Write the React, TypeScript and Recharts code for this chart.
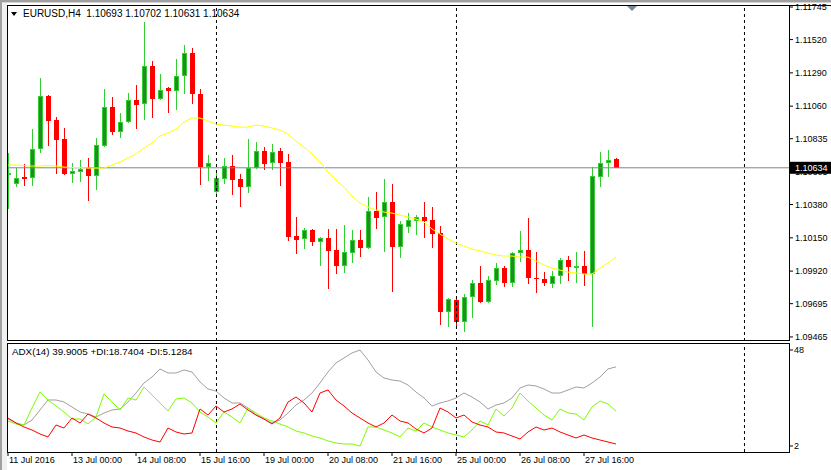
import React from 'react';
import { ComposedChart, Bar, Line, XAxis, YAxis, ReferenceLine, ReferenceDot } from 'recharts';

const FONT = "'Liberation Sans', Arial, sans-serif";
const LIME = '#32CD32';
const DARK = '#228B22';
const BEAR = '#FF0000';

// EURUSD H4 candles, oldest first
const opens = [
  1.10591, 1.10522, 1.10570, 1.10563, 1.10763, 1.11130, 1.10964, 1.10833, 1.10591, 1.10604,
  1.10632, 1.10577, 1.10784, 1.11054, 1.10881, 1.10950, 1.11102, 1.11074, 1.11337, 1.11109,
  1.11185, 1.11164, 1.11268, 1.11427, 1.11143, 1.10639, 1.10466, 1.10556, 1.10646, 1.10556,
  1.10501, 1.10632, 1.10750, 1.10667, 1.10750, 1.10674, 1.10162, 1.10142, 1.10204, 1.10121,
  1.10148, 1.10065, 1.09955, 1.10045, 1.10135, 1.10079, 1.10335, 1.10294, 1.10397, 1.10086,
  1.10224, 1.10266, 1.10294, 1.10273, 1.10183, 1.09637, 1.09720, 1.09568, 1.09741, 1.09837,
  1.09706, 1.09851, 1.09941, 1.09837, 1.10045, 1.10065, 1.09872, 1.09865, 1.09831, 1.09886,
  1.09996, 1.09948, 1.09955, 1.09900, 1.10570, 1.10667, 1.10693,
];
const highs = [
  1.10736, 1.10632, 1.10660, 1.10902, 1.11254, 1.11137, 1.10985, 1.10909, 1.10667, 1.10687,
  1.10701, 1.10839, 1.11178, 1.11123, 1.11012, 1.11150, 1.11206, 1.11641, 1.11371, 1.11282,
  1.11192, 1.11385, 1.11482, 1.11461, 1.11178, 1.10722, 1.10618, 1.10701, 1.10722, 1.10591,
  1.10833, 1.10812, 1.10777, 1.10798, 1.10770, 1.10729, 1.10294, 1.10218, 1.10211, 1.10155,
  1.10211, 1.10211, 1.10238, 1.10204, 1.10204, 1.10432, 1.10466, 1.10556, 1.10522, 1.10266,
  1.10321, 1.10307, 1.10397, 1.10363, 1.10231, 1.09734, 1.09734, 1.09761, 1.09858, 1.09955,
  1.09886, 1.09976, 1.09955, 1.10052, 1.10197, 1.10287, 1.10052, 1.09913, 1.09920, 1.10010,
  1.10024, 1.10052, 1.10059, 1.10639, 1.10743, 1.10756, 1.10702,
];
const lows = [
  1.10349, 1.10501, 1.10508, 1.10508, 1.10736, 1.10784, 1.10591, 1.10584, 1.10528, 1.10535,
  1.10404, 1.10480, 1.10777, 1.10860, 1.10839, 1.10943, 1.10902, 1.10964, 1.10978, 1.11102,
  1.11012, 1.11033, 1.11143, 1.11074, 1.10515, 1.10542, 1.10432, 1.10522, 1.10446, 1.10363,
  1.10459, 1.10625, 1.10618, 1.10618, 1.10508, 1.10128, 1.10038, 1.10072, 1.10093, 1.09955,
  1.09796, 1.09900, 1.09907, 1.09976, 1.10017, 1.10072, 1.10211, 1.10052, 1.09775, 1.10010,
  1.10183, 1.10169, 1.10148, 1.10079, 1.09547, 1.09533, 1.09540, 1.09499, 1.09596, 1.09699,
  1.09699, 1.09824, 1.09810, 1.09810, 1.09983, 1.09831, 1.09768, 1.09817, 1.09803, 1.09831,
  1.09851, 1.09837, 1.09817, 1.09533, 1.10501, 1.10570, 1.10631,
];
const closes = [
  1.10598, 1.10563, 1.10556, 1.10763, 1.11130, 1.10957, 1.10826, 1.10591, 1.10611, 1.10625,
  1.10577, 1.10791, 1.11054, 1.10881, 1.10950, 1.11102, 1.11067, 1.11337, 1.11109, 1.11171,
  1.11164, 1.11268, 1.11427, 1.11143, 1.10639, 1.10667, 1.10563, 1.10646, 1.10549, 1.10501,
  1.10632, 1.10750, 1.10660, 1.10743, 1.10667, 1.10155, 1.10135, 1.10204, 1.10121, 1.10148,
  1.10059, 1.09955, 1.10052, 1.10135, 1.10079, 1.10335, 1.10287, 1.10397, 1.10086, 1.10245,
  1.10273, 1.10294, 1.10266, 1.10176, 1.09637, 1.09727, 1.09568, 1.09741, 1.09837, 1.09706,
  1.09858, 1.09941, 1.09837, 1.10045, 1.10065, 1.09872, 1.09865, 1.09837, 1.09886, 1.09996,
  1.09948, 1.09955, 1.09900, 1.10577, 1.10667, 1.10687, 1.10634,
];
// moving average (yellow)
const ma = [
  1.10653, 1.10653, 1.10649, 1.10646, 1.10646, 1.10649, 1.10646, 1.10639, 1.10636, 1.10636,
  1.10632, 1.10632, 1.10632, 1.10653, 1.10674, 1.10701, 1.10729, 1.10770, 1.10805, 1.10853,
  1.10874, 1.10902, 1.10950, 1.10978, 1.10978, 1.10957, 1.10936, 1.10929, 1.10922, 1.10915,
  1.10915, 1.10929, 1.10922, 1.10909, 1.10895, 1.10867, 1.10819, 1.10777, 1.10729, 1.10674,
  1.10604, 1.10549, 1.10501, 1.10439, 1.10390, 1.10363, 1.10342, 1.10328, 1.10321, 1.10307,
  1.10294, 1.10280, 1.10259, 1.10211, 1.10176, 1.10142, 1.10114, 1.10093, 1.10072, 1.10059,
  1.10045, 1.10031, 1.10024, 1.10024, 1.10017, 1.10017, 1.09990, 1.09962, 1.09941, 1.09927,
  1.09913, 1.09907, 1.09900, 1.09900, 1.09941, 1.09976, 1.10017,
];
// ADX(14)
const adx = [
  14.93, 13.02, 12.06, 14.46, 19.25, 24.04, 24.04, 23.08, 20.69, 18.29,
  17.33, 15.89, 17.81, 19.25, 19.73, 23.08, 27.39, 32.19, 35.06, 38.90,
  36.98, 36.98, 38.42, 37.46, 32.67, 29.31, 28.35, 25.00, 22.60, 22.60,
  20.21, 16.85, 14.93, 13.02, 14.46, 17.81, 21.64, 24.04, 27.39, 32.19,
  37.46, 41.77, 44.17, 46.56, 48.00, 43.21, 37.46, 34.58, 33.62, 33.14,
  31.23, 27.87, 25.00, 21.16, 22.60, 23.56, 25.00, 27.39, 25.48, 23.08,
  19.73, 21.64, 22.60, 25.00, 29.79, 31.23, 30.75, 29.31, 27.39, 27.39,
  28.83, 30.27, 29.79, 32.19, 35.06, 38.90, 39.90,
];
const plusDI = [
  13.98, 12.54, 12.06, 20.21, 27.87, 24.04, 21.16, 18.29, 14.93, 14.93,
  12.54, 15.89, 26.92, 23.08, 19.25, 25.00, 24.04, 30.27, 26.44, 22.60,
  18.77, 24.52, 25.00, 22.60, 18.29, 15.89, 13.02, 18.29, 15.89, 13.02,
  20.21, 17.81, 15.41, 13.98, 12.54, 11.10, 9.18, 8.23, 6.79, 5.83,
  4.39, 3.43, 2.95, 2.95, 1.99, 11.10, 11.10, 9.66, 8.23, 6.31,
  10.62, 9.18, 13.02, 11.10, 9.66, 8.23, 7.27, 6.31, 9.66, 13.98,
  12.06, 19.73, 16.37, 20.21, 27.39, 23.56, 20.21, 16.85, 14.46, 19.73,
  17.81, 17.33, 14.46, 20.69, 23.56, 22.12, 18.74,
];
const minusDI = [
  15.41, 13.02, 11.10, 9.66, 7.75, 6.31, 12.06, 10.62, 15.41, 13.02,
  17.33, 15.41, 13.02, 11.10, 10.62, 9.18, 8.23, 6.31, 4.87, 3.91,
  10.62, 8.71, 7.75, 8.23, 19.73, 16.85, 21.16, 18.29, 19.73, 22.12,
  19.25, 16.85, 14.93, 12.54, 15.41, 23.08, 25.48, 22.60, 18.29, 27.39,
  28.83, 24.04, 21.16, 17.81, 15.41, 13.02, 11.10, 13.02, 16.85, 13.98,
  13.02, 10.14, 8.23, 10.62, 20.21, 18.29, 15.41, 16.85, 13.50, 12.06,
  11.10, 8.71, 8.23, 6.79, 5.35, 8.71, 11.10, 9.66, 10.62, 8.71,
  7.27, 5.83, 7.27, 5.83, 4.87, 3.91, 2.95,
];

const priceTicks = [1.11745, 1.1152, 1.1129, 1.1106, 1.10835, 1.10605, 1.1038, 1.1015, 1.0992, 1.09695, 1.09465];
const lastPrice = 1.10634;
const adxTicks = [48, 2];
const timeTicks = [0, 8, 16, 24, 32, 40, 48, 56, 64, 72];
const timeLabels = [
  '11 Jul 2016', '13 Jul 00:00', '14 Jul 08:00', '15 Jul 16:00', '19 Jul 00:00',
  '20 Jul 08:00', '21 Jul 16:00', '25 Jul 00:00', '26 Jul 08:00', '27 Jul 16:00',
];
const separators = [26.06, 56.06, 92.06];

const candles = opens.map((open, i) => ({
  i,
  open,
  high: highs[i],
  low: lows[i],
  close: closes[i],
  range: [lows[i], highs[i]],
  ma: ma[i],
}));
const adxRows = adx.map((v, i) => ({ i, adx: v, plus: plusDI[i], minus: minusDI[i] }));

function Candle(props: any) {
  const { x, y, width, height, payload } = props;
  if (!payload || x == null || y == null) return null;
  const top0 = Math.min(y, y + height);
  const h = Math.abs(height);
  const { open, close, high, low } = payload;
  const span = high - low || 1e-9;
  const toY = (v: number) => top0 + ((high - v) / span) * h;
  const cx = Math.round(x + width / 2) + 0.5;
  const bTop = Math.round(toY(Math.max(open, close)));
  const bBot = Math.round(toY(Math.min(open, close)));
  const wTop = Math.round(top0);
  const wBot = Math.round(top0 + h);
  if (close >= open) {
    const bh = bBot - bTop;
    return (
      <g>
        <line x1={cx} x2={cx} y1={wTop} y2={wBot} stroke={LIME} />
        {bh >= 3 ? (
          <rect x={cx - 2} y={bTop + 0.5} width={4} height={bh - 1} fill={DARK} stroke={LIME} />
        ) : (
          <rect x={cx - 2.5} y={bTop} width={5} height={Math.max(bh, 2)} fill={LIME} />
        )}
      </g>
    );
  }
  return (
    <g>
      <line x1={cx} x2={cx} y1={wTop} y2={wBot} stroke={BEAR} />
      <rect x={cx - 2.5} y={bTop} width={5} height={Math.max(bBot - bTop, 1)} fill={BEAR} />
    </g>
  );
}

const PriceTick = (props: any) => {
  const { x, y, payload } = props;
  const v = payload.value;
  if (v === lastPrice) {
    return (
      <g>
        <rect x={x - 5} y={y - 6} width={41} height={12} fill="#000" />
        <text x={x} y={y} dy="0.36em" fill="#fff" fontSize={9} fontFamily={FONT}>{v.toFixed(5)}</text>
      </g>
    );
  }
  return (
    <text x={x} y={y} dy="0.36em" fill="#000" fontSize={9} fontFamily={FONT}>{v.toFixed(5)}</text>
  );
};

const AdxTick = (props: any) => {
  const { x, y, payload } = props;
  return (
    <text x={x - 1} y={y} dy="0.36em" fill="#000" fontSize={9} fontFamily={FONT}>{payload.value}</text>
  );
};

const TimeTick = (props: any) => {
  const { x, y, payload } = props;
  const idx = timeTicks.indexOf(payload.value);
  return (
    <text x={x + 1} y={y} dy="0.71em" textAnchor="start" fill="#000" fontSize={9} fontFamily={FONT}>
      {timeLabels[idx]}
    </text>
  );
};

const ShiftMark = (props: any) => {
  const { cx, cy } = props;
  return <polygon points={`${cx - 5},${cy + 1} ${cx + 5},${cy + 1} ${cx},${cy + 6}`} fill="#778899" />;
};

export default function App() {
  return (
    <div style={{ position: 'absolute', left: 0, top: 0, width: 831, height: 470, background: '#fff', overflow: 'hidden', fontFamily: FONT }}>
      <div style={{ position: 'absolute', left: 0, top: 0 }}>
        <ComposedChart width={831} height={341} data={candles} margin={{ top: 5, right: 0, bottom: 0, left: 8 }}>
          <XAxis type="number" dataKey="i" domain={[0, 97.625]} allowDataOverflow hide />
          <YAxis
            orientation="right"
            width={42}
            domain={[1.09437, 1.11759]}
            allowDataOverflow
            ticks={[...priceTicks, lastPrice]}
            interval={0}
            axisLine={false}
            tickLine={{ stroke: '#000' }}
            tickSize={4}
            tickMargin={2}
            tick={<PriceTick />}
          />
          <ReferenceLine y={lastPrice} stroke="#778899" />
          {separators.map((s) => (
            <ReferenceLine key={s} x={s} stroke="#000" strokeDasharray="3 3" />
          ))}
          <Line dataKey="ma" stroke="#FFFF00" strokeWidth={1} dot={false} isAnimationActive={false} />
          <Bar dataKey="range" barSize={5} shape={(p: any) => <Candle {...p} />} isAnimationActive={false} />
          <ReferenceDot x={78} y={1.11759} r={5} shape={<ShiftMark />} />
        </ComposedChart>
      </div>

      <div style={{ position: 'absolute', left: 0, top: 343 }}>
        <ComposedChart width={831} height={127} data={adxRows} margin={{ top: 0, right: 0, bottom: 0, left: 8 }}>
          <XAxis
            type="number"
            dataKey="i"
            domain={[0, 97.625]}
            allowDataOverflow
            ticks={timeTicks}
            interval={0}
            height={18}
            axisLine={false}
            tickLine={{ stroke: '#000' }}
            tickSize={4}
            tickMargin={1}
            tick={<TimeTick />}
          />
          <YAxis
            orientation="right"
            width={42}
            domain={[-0.88, 51.35]}
            allowDataOverflow
            ticks={adxTicks}
            interval={0}
            axisLine={false}
            tickLine={{ stroke: '#000' }}
            tickSize={4}
            tickMargin={2}
            tick={<AdxTick />}
          />
          {separators.map((s) => (
            <ReferenceLine key={s} x={s} stroke="#000" strokeDasharray="3 3" />
          ))}
          <Line dataKey="adx" stroke="#A0A0A0" strokeWidth={1} dot={false} isAnimationActive={false} />
          <Line dataKey="plus" stroke="#7CFC00" strokeWidth={1} dot={false} isAnimationActive={false} />
          <Line dataKey="minus" stroke="#FF0000" strokeWidth={1} dot={false} isAnimationActive={false} />
        </ComposedChart>
      </div>

      {/* window chrome */}
      <div style={{ position: 'absolute', left: 0, top: 0, width: 831, height: 2, background: '#a0a0a0' }} />
      <div style={{ position: 'absolute', left: 0, top: 2, width: 831, height: 1, background: '#d4d4d4' }} />
      <div style={{ position: 'absolute', left: 0, top: 0, width: 2, height: 470, background: '#a0a0a0' }} />
      <div style={{ position: 'absolute', left: 2, top: 3, width: 5, height: 467, background: '#f0f0f0' }} />
      <div style={{ position: 'absolute', left: 7, top: 5, width: 824, height: 1, background: '#000' }} />
      <div style={{ position: 'absolute', left: 7, top: 5, width: 783, height: 336, border: '1px solid #000', boxSizing: 'border-box' }} />
      <div style={{ position: 'absolute', left: 7, top: 343, width: 783, height: 110, border: '1px solid #000', boxSizing: 'border-box' }} />

      {/* labels */}
      <div style={{ position: 'absolute', left: 11, top: 12, width: 0, height: 0, borderLeft: '3.5px solid transparent', borderRight: '3.5px solid transparent', borderTop: '4px solid #000' }} />
      <div style={{ position: 'absolute', left: 23, top: 8, fontSize: 10, lineHeight: '11px', whiteSpace: 'pre', color: '#000' }}>
        EURUSD,H4  1.10693 1.10702 1.10631 1.10634
      </div>
      <div style={{ position: 'absolute', left: 12, top: 346, fontSize: 9.8, lineHeight: '11px', whiteSpace: 'pre', color: '#000' }}>
        ADX(14) 39.9005 +DI:18.7404 -DI:5.1284
      </div>
    </div>
  );
}
